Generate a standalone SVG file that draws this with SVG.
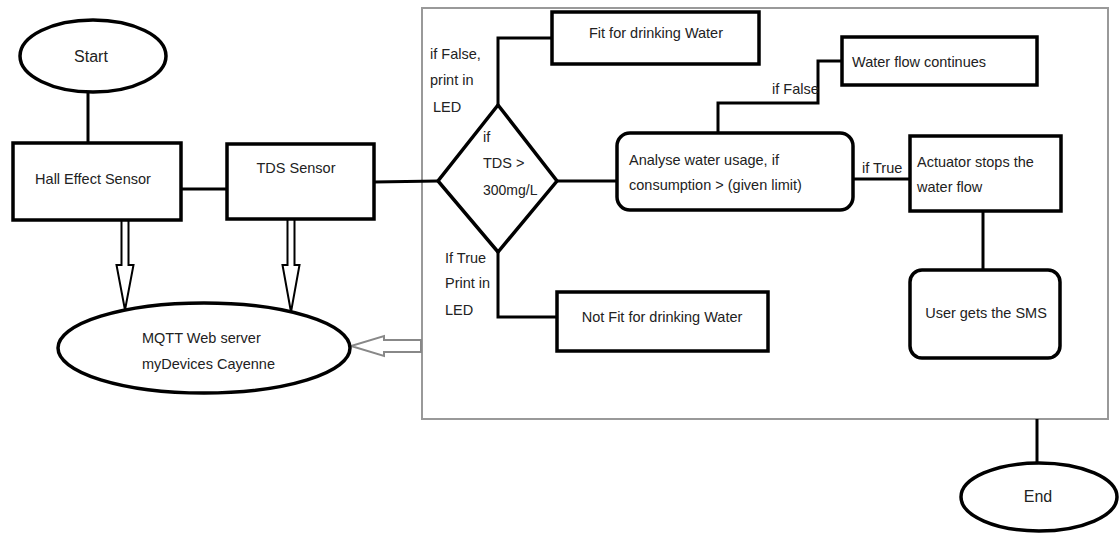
<svg xmlns="http://www.w3.org/2000/svg" width="1119" height="533" viewBox="0 0 1119 533">
<style>
text{font-family:"Liberation Sans",Arial,sans-serif;font-size:14.5px;fill:#222}
.box{fill:#fff;stroke:#000;stroke-width:3.5}
.ln{fill:none;stroke:#000;stroke-width:3}
.harrow{fill:#fff;stroke:#000;stroke-width:2;stroke-linejoin:miter}
.garrow{fill:#fff;stroke:#888;stroke-width:2}
.c{text-anchor:middle}
</style>
<rect width="1119" height="533" fill="#fff"/>
<g id="container"><rect x="422" y="8" width="686" height="411" fill="none" stroke="#999" stroke-width="2"/></g>
<g id="connectors">
<line class="ln" x1="88" y1="92" x2="88" y2="143"/>
<line class="ln" x1="181" y1="189" x2="227" y2="189"/>
<line class="ln" x1="374" y1="182" x2="438" y2="181"/>
<polyline class="ln" points="498,105 498,38 552,38"/>
<polyline class="ln" points="498,252 498,317 557,317"/>
<line class="ln" x1="557" y1="181" x2="617" y2="181"/>
<polyline class="ln" points="718,133 718,103 818,103 818,61 842,61"/>
<line class="ln" x1="853" y1="179" x2="910" y2="179"/>
<line class="ln" x1="983" y1="211" x2="983" y2="270"/>
<line class="ln" x1="1037" y1="419" x2="1037" y2="462"/>
<path class="harrow" d="M121.5,220 V265 H116.5 L125,310 L133.5,265 H128.5 V220"/>
<path class="harrow" d="M287.5,219 V265 H282.5 L291,312 L299.5,265 H294.5 V219"/>
<path class="garrow" d="M421,340 H384 V336 L351,346 L384,356 V352 H421 Z"/>
<text x="430" y="59">if False,</text>
<text x="430" y="85">print in</text>
<text x="433" y="112">LED</text>
<text x="445" y="263">If True</text>
<text x="445" y="288">Print in</text>
<text x="445" y="315">LED</text>
<text x="772" y="94">if False</text>
<text x="862" y="173">if True</text>
</g>
<g id="start"><ellipse class="box" cx="93" cy="56" rx="73" ry="36"/><text class="c" x="91" y="62" style="font-size:16px">Start</text></g>
<g id="hall"><rect class="box" x="13" y="143" width="168" height="77"/><text class="c" x="93" y="184">Hall Effect Sensor</text></g>
<g id="tds"><rect class="box" x="227" y="144" width="147" height="75"/><text class="c" x="296" y="173">TDS Sensor</text></g>
<g id="mqtt"><ellipse class="box" cx="204" cy="348" rx="146" ry="45"/><text x="142" y="343">MQTT Web server</text><text x="142" y="369">myDevices Cayenne</text></g>
<g id="decision"><polygon class="box" points="498,105 557,181 498,252 438,181"/><text x="483" y="142">if</text><text x="483" y="168">TDS &gt;</text><text x="483" y="195" style="font-size:14px">300mg/L</text></g>
<g id="fit"><rect class="box" x="552" y="12" width="207" height="52"/><text class="c" x="656" y="38">Fit for drinking Water</text></g>
<g id="notfit"><rect class="box" x="557" y="292" width="211" height="59"/><text class="c" x="662" y="322">Not Fit for drinking Water</text></g>
<g id="analyse"><rect class="box" x="617" y="133" width="236" height="77" rx="13"/><text x="629" y="165">Analyse water usage, if</text><text x="629" y="190">consumption &gt; (given limit)</text></g>
<g id="flow"><rect class="box" x="842" y="37" width="195" height="48"/><text x="852" y="67">Water flow continues</text></g>
<g id="actuator"><rect class="box" x="910" y="136" width="151" height="75"/><text x="917" y="167">Actuator stops the</text><text x="917" y="192">water flow</text></g>
<g id="sms"><rect class="box" x="910" y="270" width="150" height="88" rx="12"/><text class="c" x="986" y="318">User gets the SMS</text></g>
<g id="end"><ellipse class="box" cx="1039" cy="497" rx="78" ry="34"/><text class="c" x="1038" y="502" style="font-size:16px">End</text></g>
</svg>
